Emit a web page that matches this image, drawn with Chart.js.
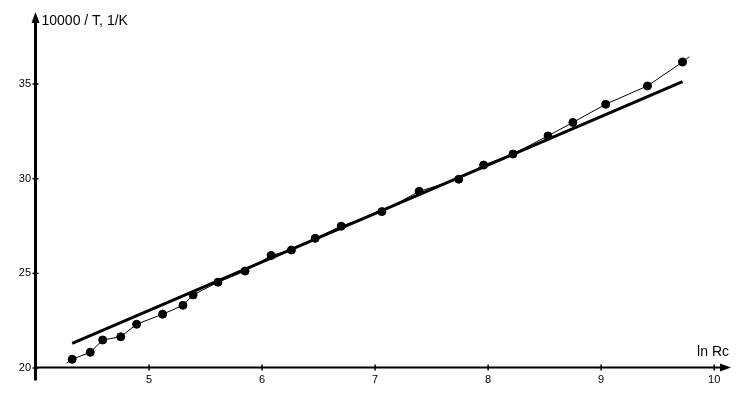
<!DOCTYPE html>
<html>
<head>
<meta charset="utf-8">
<script src="https://cdn.jsdelivr.net/npm/chart.js@4"></script>
<style>
  html, body { margin: 0; padding: 0; background: #fff; }
  #wrap { width: 750px; height: 395px; }
</style>
</head>
<body>
<div id="wrap"><canvas id="chart"></canvas></div>
<script>
// measured points: ln Rc vs 10000/T
const lnRc = [4.32, 4.48, 4.59, 4.75, 4.89, 5.12, 5.30, 5.39, 5.61, 5.85, 6.08, 6.26,
              6.47, 6.70, 7.06, 7.39, 7.74, 7.96, 8.22, 8.53, 8.75, 9.04, 9.41, 9.72];
const invT = [20.46, 20.83, 21.48, 21.65, 22.31, 22.84, 23.31, 23.86, 24.53, 25.12, 25.94, 26.23,
              26.85, 27.49, 28.26, 29.33, 29.97, 30.72, 31.30, 32.26, 32.97, 33.93, 34.90, 36.16];

// thin curve runs a little past the first and last points
const thinStart = [4.27, 20.26];
const thinEnd = [9.78, 36.44];

// straight fit line
const fitX = [4.32, 9.72];
const fitY = [21.30, 35.12];

const xTicks = [5, 6, 7, 8, 9, 10];
const yTicks = [20, 25, 30, 35];
const xMin = 4, xMax = 10.14;
const yMin = 20, yMax = 38.75;

const pts = lnRc.map((x, i) => ({ x: x, y: invT[i] }));
const thin = [{ x: thinStart[0], y: thinStart[1] }, ...pts, { x: thinEnd[0], y: thinEnd[1] }];
const fit = fitX.map((x, i) => ({ x: x, y: fitY[i] }));

Chart.defaults.color = "#000";
Chart.defaults.font.family = "'Liberation Sans', Arial, sans-serif";

// =====================
// AXES WITH ARROWS
// =====================
const axesPlugin = {
  id: "axes",
  beforeDatasetsDraw(chart) {
    const ctx = chart.ctx;
    const xs = chart.scales.x, ys = chart.scales.y;
    const ax = xs.getPixelForValue(xMin) - 0.5;
    const ay = ys.getPixelForValue(yMin) - 0.5;
    const top = chart.chartArea.top;
    const right = chart.chartArea.right;

    ctx.save();
    ctx.strokeStyle = "#000";
    ctx.fillStyle = "#000";

    // y axis (runs a bit below the x axis)
    ctx.lineWidth = 3;
    ctx.beginPath();
    ctx.moveTo(ax, top + 8);
    ctx.lineTo(ax, ay + 13);
    ctx.stroke();
    ctx.beginPath();
    ctx.moveTo(ax, top - 1);
    ctx.lineTo(ax - 4, top + 10);
    ctx.lineTo(ax + 4, top + 10);
    ctx.closePath();
    ctx.fill();

    // x axis
    ctx.lineWidth = 2;
    ctx.beginPath();
    ctx.moveTo(ax, ay);
    ctx.lineTo(right - 8, ay);
    ctx.stroke();
    ctx.beginPath();
    ctx.moveTo(right + 1, ay);
    ctx.lineTo(right - 10, ay - 4);
    ctx.lineTo(right - 10, ay + 4);
    ctx.closePath();
    ctx.fill();

    // tick marks
    ctx.lineWidth = 1.5;
    xTicks.forEach(v => {
      const px = xs.getPixelForValue(v);
      ctx.beginPath();
      ctx.moveTo(px, ay - 3);
      ctx.lineTo(px, ay + 3);
      ctx.stroke();
    });
    yTicks.forEach(v => {
      const py = ys.getPixelForValue(v);
      ctx.beginPath();
      ctx.moveTo(ax - 3, py);
      ctx.lineTo(ax + 3, py);
      ctx.stroke();
    });

    // axis names
    ctx.font = "14px 'Liberation Sans', Arial, sans-serif";
    ctx.textBaseline = "middle";
    ctx.textAlign = "left";
    ctx.fillText("10000 / T, 1/K", ax + 6, top + 8);
    ctx.textAlign = "right";
    ctx.fillText("ln Rc", right - 1, ay - 15);
    ctx.restore();
  }
};

new Chart(document.getElementById("chart"), {
  type: "scatter",
  data: {
    datasets: [
      {
        label: "fit",
        data: fit,
        showLine: true,
        borderColor: "#000",
        borderWidth: 3,
        pointRadius: 0
      },
      {
        label: "curve",
        data: thin,
        showLine: true,
        borderColor: "#000",
        borderWidth: 1,
        pointRadius: 0
      },
      {
        label: "points",
        data: pts,
        showLine: false,
        backgroundColor: "#000",
        borderColor: "#000",
        pointRadius: 4
      }
    ]
  },
  plugins: [axesPlugin],
  options: {
    responsive: true,
    maintainAspectRatio: false,
    animation: false,
    events: [],
    layout: { padding: { top: 13, right: 20, left: 0, bottom: 0 } },
    plugins: { legend: { display: false }, tooltip: { enabled: false } },
    scales: {
      x: {
        type: "linear",
        min: xMin,
        max: xMax,
        grid: { display: false, drawTicks: false },
        border: { display: false },
        afterBuildTicks: s => { s.ticks = xTicks.map(v => ({ value: v })); },
        afterFit: s => { s.height = 27; },
        ticks: { padding: 5, maxRotation: 0, font: { size: 11 } }
      },
      y: {
        type: "linear",
        min: yMin,
        max: yMax,
        grid: { display: false, drawTicks: false },
        border: { display: false },
        afterBuildTicks: s => { s.ticks = yTicks.map(v => ({ value: v })); },
        afterFit: s => { s.width = 36; },
        ticks: { padding: 5, font: { size: 11 } }
      }
    }
  }
});
</script>
</body>
</html>
